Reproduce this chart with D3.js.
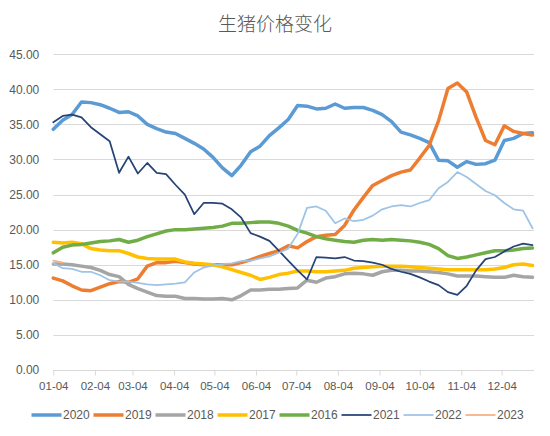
<!DOCTYPE html>
<html>
<head>
<meta charset="utf-8">
<script src="https://cdn.jsdelivr.net/npm/d3@7"></script>
<style>
  html, body { margin: 0; padding: 0; background: #ffffff; }
  svg { display: block; }
</style>
</head>
<body>
<svg id="chart" width="550" height="436"></svg>
<script>
// ---------- data ----------
const title = "生猪价格变化";
const seriesNames = ["2020", "2019", "2018", "2017", "2016", "2021", "2022", "2023"];
const xTickLabels = ["01-04","02-04","03-04","04-04","05-04","06-04","07-04","08-04","09-04","10-04","11-04","12-04"];
const yTicks = [0, 5, 10, 15, 20, 25, 30, 35, 40, 45];

const v2020 = [34.3,35.6,36.4,38.2,38.1,37.8,37.3,36.7,36.8,36.2,35.0,34.4,33.9,33.7,33.0,32.3,31.5,30.3,28.8,27.7,29.2,31.1,31.9,33.4,34.5,35.7,37.7,37.6,37.2,37.3,37.9,37.3,37.4,37.4,37.0,36.4,35.4,33.9,33.5,33.0,32.4,29.9,29.8,28.9,29.7,29.3,29.4,29.9,32.7,33.0,33.7,33.8];
const v2019 = [13.1,12.7,12.0,11.4,11.3,11.8,12.3,12.6,12.5,13.0,14.8,15.3,15.3,15.5,15.3,15.1,15.0,15.0,15.0,15.0,15.3,15.7,16.2,16.6,17.0,17.7,17.4,18.3,19.0,19.2,19.3,20.6,22.8,24.6,26.3,27.0,27.7,28.2,28.5,30.2,32.0,35.5,40.1,40.9,39.6,36.0,32.7,32.1,34.8,34.0,33.7,33.5];
const v2018 = [15.1,15.1,15.0,14.8,14.6,14.2,13.6,13.3,12.2,11.6,11.1,10.6,10.5,10.5,10.2,10.2,10.1,10.1,10.2,10.0,10.6,11.4,11.4,11.5,11.5,11.6,11.7,12.8,12.5,13.1,13.3,13.7,13.8,13.7,13.5,14.0,14.2,14.2,14.1,14.1,14.0,13.9,13.7,13.4,13.4,13.4,13.3,13.2,13.2,13.5,13.3,13.2];
const v2017 = [18.2,18.1,18.2,18.0,17.3,17.1,17.0,17.0,16.6,16.1,15.9,15.8,15.8,15.8,15.4,15.2,15.1,15.0,14.7,14.3,13.9,13.5,12.9,13.2,13.6,13.8,14.1,14.1,14.0,14.0,14.1,14.2,14.5,14.6,14.7,14.8,14.8,14.8,14.7,14.6,14.5,14.4,14.3,14.3,14.3,14.3,14.3,14.4,14.6,15.0,15.1,14.9];
const v2016 = [16.7,17.5,17.8,17.9,18.1,18.3,18.4,18.6,18.2,18.5,19.0,19.4,19.8,20.0,20.0,20.1,20.2,20.3,20.5,20.9,20.9,21.0,21.1,21.1,20.9,20.5,19.9,19.5,19.0,18.7,18.5,18.3,18.2,18.5,18.6,18.5,18.6,18.5,18.4,18.2,17.9,17.3,16.3,15.9,16.1,16.4,16.7,17.0,17.0,17.1,17.3,17.4];
const v2021 = [35.3,36.2,36.4,36.0,34.6,33.6,32.6,28.1,30.4,28.0,29.5,28.1,27.9,26.4,25.0,22.2,23.8,23.8,23.7,22.9,21.7,19.5,19.0,18.4,17.0,15.6,14.2,12.9,16.1,16.0,15.9,16.1,15.6,15.5,15.3,15.0,14.4,14.0,13.7,13.2,12.6,12.1,11.1,10.7,12.0,14.2,15.8,16.1,16.9,17.6,18.0,17.8];
const v2022 = [15.2,14.5,14.4,14.0,14.0,13.5,12.8,12.6,12.6,12.4,12.2,12.1,12.2,12.3,12.5,13.9,14.6,14.9,15.1,15.2,15.5,15.6,15.9,16.2,16.7,17.3,19.4,23.1,23.3,22.7,20.9,21.6,21.2,21.4,22.0,22.9,23.3,23.5,23.3,23.8,24.2,25.9,26.8,28.2,27.5,26.5,25.5,24.9,23.8,22.9,22.7,20.2];
const v2023 = [15.6,15.3];

const seriesValues = [v2020, v2019, v2018, v2017, v2016, v2021, v2022, v2023];
const seriesColors = ["#5B9BD5", "#ED7D31", "#A5A5A5", "#FFC000", "#70AD47", "#264478", "#9DC3E6", "#F4B183"];
const seriesWidths = [3.5, 3.5, 3.5, 3.5, 3.5, 1.75, 1.75, 1.75];

// ---------- layout ----------
const svg = d3.select("#chart");
const plot = { left: 53.3, right: 533, top: 54.2, bottom: 370 };
const textColor = "#595959";
const font = "'Liberation Sans', Arial, sans-serif";

const weekDate = i => new Date(2021, 0, 4 + 7 * i);
const x = d3.scaleTime()
  .domain([weekDate(0), weekDate(51)])
  .range([plot.left, plot.right - 0.5]);
const y = d3.scaleLinear().domain([0, 45]).range([plot.bottom, plot.top]);

// title
svg.append("text")
  .attr("x", 275).attr("y", 31)
  .attr("text-anchor", "middle")
  .attr("font-family", "'Noto Sans CJK SC', sans-serif")
  .attr("font-weight", 300)
  .attr("font-size", 19)
  .attr("fill", textColor)
  .text(title);

// gridlines
svg.append("g").selectAll("line")
  .data(yTicks.filter(d => d > 0))
  .join("line")
  .attr("x1", plot.left).attr("x2", plot.right + 1)
  .attr("y1", d => Math.round(y(d)) + 0.5).attr("y2", d => Math.round(y(d)) + 0.5)
  .attr("stroke", "#D9D9D9").attr("stroke-width", 1);

// y axis labels
const yAxis = d3.axisLeft(y).tickValues(yTicks).tickFormat(d3.format(".2f")).tickSize(0).tickPadding(14);
const gy = svg.append("g").attr("transform", `translate(${plot.left},0)`).call(yAxis);
gy.select(".domain").remove();
gy.selectAll("text").attr("font-family", font).attr("font-size", 12).attr("fill", textColor);

// x axis
const tickDates = xTickLabels.map(s => new Date(2021, +s.slice(0, 2) - 1, +s.slice(3)));
const xAxis = d3.axisBottom(x).tickValues(tickDates)
  .tickFormat((d, i) => xTickLabels[i]).tickSize(5).tickSizeOuter(0).tickPadding(6);
const gx = svg.append("g").attr("transform", `translate(0,${Math.round(plot.bottom) + 0.5})`).call(xAxis);
gx.select(".domain").attr("stroke", "#D9D9D9").attr("d", `M${plot.left},0H${plot.right + 1}`);
gx.selectAll(".tick line").attr("stroke", "#D9D9D9");
gx.selectAll("text").attr("font-family", font).attr("font-size", 11.5).attr("fill", textColor);

// lines
const line = d3.line()
  .x((d, i) => x(weekDate(i)))
  .y(d => y(d))
  .curve(d3.curveLinear);

svg.append("g").selectAll("path")
  .data(seriesValues)
  .join("path")
  .attr("d", d => line(d))
  .attr("fill", "none")
  .attr("stroke", (d, i) => seriesColors[i])
  .attr("stroke-width", (d, i) => seriesWidths[i])
  .attr("stroke-linejoin", "round")
  .attr("stroke-linecap", "round");

// legend
const legend = svg.append("g").attr("transform", "translate(31.5,415)");
const items = legend.selectAll("g")
  .data(seriesNames)
  .join("g")
  .attr("transform", (d, i) => `translate(${i * 62},0)`);
items.append("line")
  .attr("x1", 0).attr("x2", 30).attr("y1", 0).attr("y2", 0)
  .attr("stroke", (d, i) => seriesColors[i])
  .attr("stroke-width", (d, i) => seriesWidths[i]);
items.append("text")
  .attr("x", 31.5).attr("y", 0).attr("dy", "0.35em")
  .attr("font-family", font).attr("font-size", 12).attr("fill", textColor)
  .text(d => d);
</script>
</body>
</html>
